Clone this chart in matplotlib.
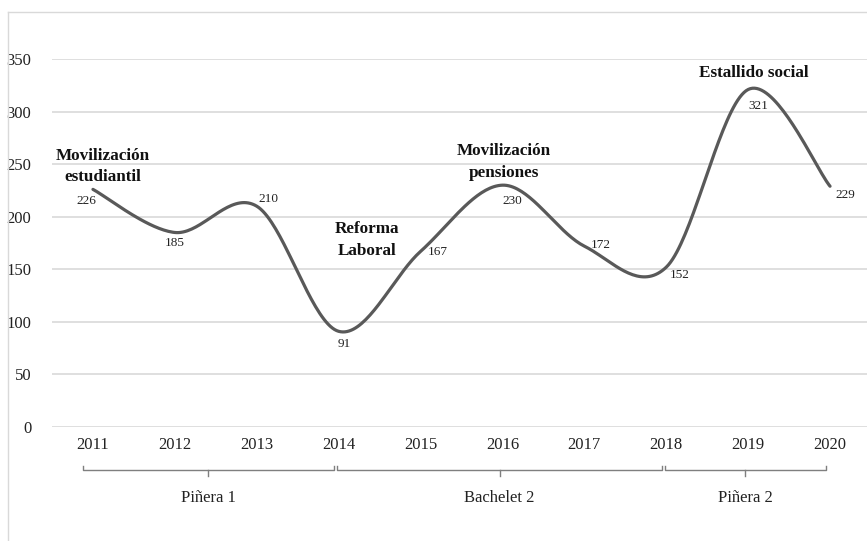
import numpy as np
import matplotlib.pyplot as plt
from matplotlib.lines import Line2D

# Data
years = [2011, 2012, 2013, 2014, 2015, 2016, 2017, 2018, 2019, 2020]
values = [226, 185, 210, 91, 167, 230, 172, 152, 321, 229]

events = ["Movilización\nestudiantil", "Reforma\nLaboral", "Movilización\npensiones", "Estallido social"]
event_xy = [(2011.12, 248), (2014.35, 178), (2016.02, 252), (2019.07, 337)]

periods = ["Piñera 1", "Bachelet 2", "Piñera 2"]
period_start = [2010.88, 2013.98, 2017.98]
period_end = [2013.94, 2017.95, 2019.95]

# label offsets in pixels (x, y)
label_off = [(-7, -12), (0, -11), (12, 7), (6, -13), (17, -1),
             (10, -16), (16, 1), (13, -8), (10, -17), (15, -9)]

plt.rcParams['font.family'] = ['Liberation Serif', 'DejaVu Serif']


def smooth(x, y, n=40):
    # Excel-like smoothed line (Catmull-Rom as cubic bezier)
    x = np.asarray(x, float)
    y = np.asarray(y, float)
    px = np.concatenate([[x[0]], x, [x[-1]]])
    py = np.concatenate([[y[0]], y, [y[-1]]])
    xs, ys = [], []
    t = np.linspace(0, 1, n)
    for i in range(1, len(px) - 2):
        p0 = np.array([px[i], py[i]])
        p3 = np.array([px[i + 1], py[i + 1]])
        c1 = p0 + (np.array([px[i + 1], py[i + 1]]) - np.array([px[i - 1], py[i - 1]])) / 6
        c2 = p3 - (np.array([px[i + 2], py[i + 2]]) - np.array([px[i], py[i]])) / 6
        b = ((1 - t) ** 3)[:, None] * p0 + (3 * (1 - t) ** 2 * t)[:, None] * c1 \
            + (3 * (1 - t) * t ** 2)[:, None] * c2 + (t ** 3)[:, None] * p3
        xs.append(b[:, 0])
        ys.append(b[:, 1])
    return np.concatenate(xs), np.concatenate(ys)


W, H = 867, 541
fig = plt.figure(figsize=(W / 100, H / 100), dpi=100)
ax = fig.add_axes([52 / W, 1 - 427 / H, (871 - 52) / W, (427 - 59) / H])

sx, sy = smooth(years, values)
ax.plot(sx, sy, color='#595959', lw=2.3, solid_capstyle='round', zorder=3)

for yr, v, off in zip(years, values, label_off):
    ax.annotate(str(v), (yr, v), xytext=off, textcoords='offset pixels',
                ha='center', va='center', fontsize=9.5, color='#222222')

for txt, (ex, ey) in zip(events, event_xy):
    ax.text(ex, ey, txt, ha='center', va='center', fontsize=12.3, fontweight='bold',
            linespacing=1.45, color='#111111')

ax.set_xlim(2010.5, 2020.5)
ax.set_ylim(0, 350)
ax.set_xticks(years)
ax.set_yticks(range(0, 351, 50))
ax.tick_params(axis='both', length=0, labelsize=12, colors='#222222')
ax.tick_params(axis='x', pad=7)
ax.tick_params(axis='y', pad=15)
ax.grid(axis='y', color='#d9d9d9', lw=1.2)
ax.set_axisbelow(True)
for s in ax.spines.values():
    s.set_visible(False)

# period brackets under the x axis
ylin, yend, ymid, ytxt = -41, -37, -46.5, -67.5
for name, a, b in zip(periods, period_start, period_end):
    m = (a + b) / 2
    ax.plot([a, a, b, b], [yend, ylin, ylin, yend], color='#7f7f7f', lw=1, clip_on=False)
    ax.plot([m, m], [ylin, ymid], color='#7f7f7f', lw=1, clip_on=False)
    ax.text(m, ytxt, name, ha='center', va='center', fontsize=12, color='#222222')

# chart frame
fig.add_artist(Line2D([8 / W, 8 / W], [0, 1 - 12 / H], color='#d9d9d9', lw=1))
fig.add_artist(Line2D([8 / W, 1], [1 - 12 / H, 1 - 12 / H], color='#d9d9d9', lw=1))

fig.savefig('out.png', dpi=100)
